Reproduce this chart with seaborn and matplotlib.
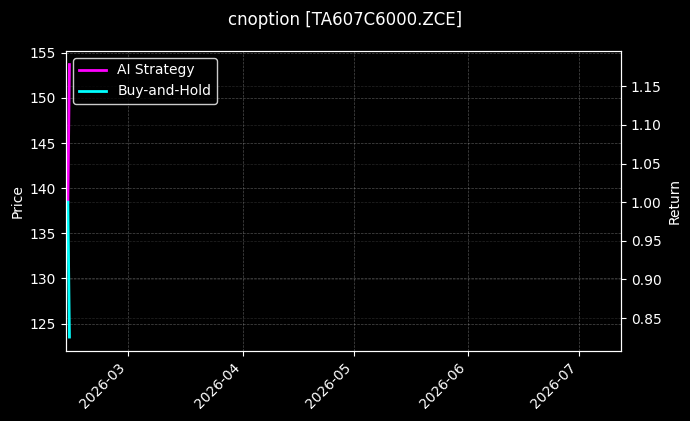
import matplotlib
matplotlib.use("Agg")
import matplotlib.pyplot as plt
import matplotlib.dates as mdates
import seaborn as sns
import pandas as pd

# data
timestamps = pd.to_datetime(["2026-02-12 17:00", "2026-02-13 03:00"])
price = [138.5, 123.5]
ai_strategy = [1.0, 1.178]
buy_and_hold = [1.0, 0.8255]
x_range = pd.to_datetime(["2026-02-12 05:00", "2026-07-12 07:00"])
price_range = [122.0, 155.2]

plt.style.use("dark_background")

fig = plt.figure(figsize=(6.9, 4.21), dpi=100)
ax1 = fig.add_axes([0.0957, 0.167, 0.8043, 0.712])
ax2 = ax1.twinx()

sns.lineplot(x=timestamps, y=price, ax=ax1, color="#dddddd", linewidth=1)
sns.lineplot(x=timestamps, y=ai_strategy, ax=ax2, color="magenta", linewidth=2, label="AI Strategy")
sns.lineplot(x=timestamps, y=buy_and_hold, ax=ax2, color="cyan", linewidth=2, label="Buy-and-Hold")

ax1.set_xlim(x_range[0], x_range[1])
ax1.set_ylim(price_range[0], price_range[1])
ax1.set_ylabel("Price")
ax2.set_ylabel("Return")
ax1.set_xlabel("")
ax2.set_xlabel("")

ax1.xaxis.set_major_locator(mdates.MonthLocator())
ax1.xaxis.set_major_formatter(mdates.DateFormatter("%Y-%m"))
plt.setp(ax1.get_xticklabels(), rotation=45, ha="right")

ax1.grid(True, linestyle="--", linewidth=0.5, alpha=0.3)
ax2.grid(True, linestyle="--", linewidth=0.5, alpha=0.15)

leg = ax2.legend(loc="upper left", facecolor="black", edgecolor="white")

fig.suptitle("cnoption [TA607C6000.ZCE]", fontsize=12, y=0.975)

fig.savefig("out.png", dpi=100, facecolor="black")
